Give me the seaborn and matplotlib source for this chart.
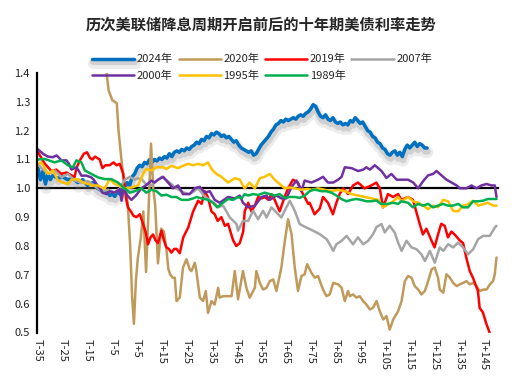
import matplotlib
matplotlib.use("Agg")
import matplotlib.pyplot as plt
import matplotlib.patheffects as pe
import pandas as pd
import seaborn as sns

sns.set_style("white")
plt.rcParams['font.family'] = ['Noto Sans CJK SC', 'DejaVu Sans']
plt.rcParams['axes.unicode_minus'] = False

title = "历次美联储降息周期开启前后的十年期美债利率走势"

series_names = ["2024年", "2020年", "2019年", "2007年", "2000年", "1995年", "1989年"]
series_colors = ["#0070C0", "#C09A5B", "#FF0000", "#A5A5A5", "#7030A0", "#FFC000", "#00B050"]

x_ticks = [-35, -25, -15, -5, 5, 15, 25, 35, 45, 55, 65, 75, 85, 95, 105, 115, 125, 135, 145]
x_tick_labels = ["T-35", "T-25", "T-15", "T-5", "T+5", "T+15", "T+25", "T+35", "T+45", "T+55",
                 "T+65", "T+75", "T+85", "T+95", "T+105", "T+115", "T+125", "T+135", "T+145"]
y_ticks = [0.5, 0.6, 0.7, 0.8, 0.9, 1.0, 1.1, 1.2, 1.3, 1.4]

t_2024 = [-35, -34, -33, -32, -31, -30, -29, -27, -25, -23, -21, -19, -17, -15, -13, -11, -9, -7, -6, -5,
          -4, -3, -2, -1, 0, 1, 2, 3, 4, 5, 6, 7, 8, 9, 10, 11, 12, 13, 14, 15, 16, 17, 18, 19, 20,
          21, 22, 23, 24, 25, 26, 27, 28, 29, 30, 31, 32, 33, 34, 35, 36, 37, 38, 39, 40, 41, 42, 43,
          44, 45, 46, 47, 48, 49, 50, 51, 52, 53, 54, 55, 56, 57, 58, 59, 60, 61, 62, 63, 64, 65, 66,
          67, 68, 69, 70, 71, 72, 73, 74, 75, 76, 77, 78, 79, 80, 81, 82, 83, 84, 85, 86, 87, 88, 89,
          90, 91, 92, 93, 94, 95, 96, 97, 98, 99, 100, 101, 102, 103, 104, 105, 106, 107, 108, 109,
          110, 111, 112, 113, 114, 115, 116, 117, 118, 119, 120, 121, 122]
v_2024 = [1.07, 1.03, 1.06, 1.015, 1.05, 1.03, 1.045, 1.035, 1.04, 1.03, 1.035, 1.02, 1.03, 1.01, 1.02,
          1.0, 0.99, 0.985, 0.975, 0.98, 0.972, 0.99, 0.98, 0.995,
          1.0, 1.02, 1.01, 1.04, 1.05, 1.07, 1.08, 1.075, 1.09, 1.085, 1.10, 1.09, 1.10, 1.095, 1.105,
          1.10, 1.11, 1.105, 1.12, 1.11, 1.125, 1.13, 1.125, 1.135, 1.13, 1.14, 1.135, 1.145, 1.15,
          1.16, 1.155, 1.17, 1.165, 1.18, 1.175, 1.19, 1.185, 1.195, 1.19, 1.18, 1.185, 1.175, 1.18,
          1.17, 1.16, 1.165, 1.15, 1.14, 1.135, 1.13, 1.125, 1.13, 1.115, 1.12, 1.135, 1.15, 1.16,
          1.17, 1.18, 1.195, 1.205, 1.22, 1.225, 1.235, 1.23, 1.24, 1.235, 1.24, 1.245, 1.24, 1.25,
          1.255, 1.25, 1.26, 1.265, 1.275, 1.29, 1.285, 1.265, 1.25, 1.245, 1.255, 1.24, 1.235, 1.245,
          1.23, 1.225, 1.23, 1.22, 1.225, 1.22, 1.235, 1.23, 1.245, 1.235, 1.225, 1.23, 1.215, 1.2,
          1.195, 1.18, 1.175, 1.16, 1.155, 1.14, 1.135, 1.12, 1.115, 1.125, 1.13, 1.115, 1.125, 1.11,
          1.135, 1.15, 1.14, 1.15, 1.16, 1.145, 1.155, 1.15, 1.14, 1.14]

t_2020 = [-12, -8, -6.5, -5, -4, -3.2, -2.5, -1.3, 0, 1.2, 2.2, 3.0, 3.7, 4.5, 5.3, 6.5, 7.5, 8.6, 9.5,
          10.6, 11.5, 12.3, 13.4, 14.7, 15.8, 16.8, 17.6, 18.4, 19.3, 20.2, 20.9, 22.2, 23.5, 24.9,
          26.2, 26.9, 28.3, 28.9, 30.3, 31.6, 32.7, 33.6, 35.0, 36.3, 37.7, 38.3, 39.7, 41.7, 43.1,
          44.4, 45.7, 47.7, 49.1, 50.4, 52.5, 53.1, 54.5, 55.8, 57.2, 58.5, 59.9, 61.2, 63.2, 64.6,
          65.9, 67.3, 68.6, 69.9, 71.3, 72.6, 73.6, 75.3, 76.7, 78.0, 80.0, 81.4, 82.7, 84.1, 86.1,
          87.5, 88.8, 90.1, 90.8, 92.1, 93.5, 94.8, 96.2, 97.5, 98.9, 100.2, 101.6, 102.9, 104.3,
          105.6, 106.9, 108.3, 110.3, 111.7, 113.0, 114.3, 115.7, 117.0, 118.4, 119.7, 121.1, 122.4,
          123.8, 125.1, 126.4, 127.1, 128.5, 129.8, 131.2, 132.5, 133.9, 135.2, 136.5, 137.9, 139.2,
          140.6, 141.9, 143.3, 144.6, 146.0, 147.3, 148.6, 149.3, 150.0]
v_2020 = [1.6, 1.45, 1.34, 1.305, 1.30, 1.295, 1.2, 1.097, 1.0, 0.95, 0.80, 0.62, 0.53, 0.68, 0.76, 0.83,
          0.92, 0.71, 0.90, 1.155, 1.0, 0.94, 0.74, 0.86, 0.85, 0.79, 0.72, 0.70, 0.69, 0.69, 0.609,
          0.621, 0.725, 0.754, 0.719, 0.713, 0.742, 0.713, 0.621, 0.609, 0.644, 0.568, 0.609, 0.597,
          0.655, 0.621, 0.626, 0.626, 0.626, 0.713, 0.615, 0.713, 0.655, 0.621, 0.655, 0.713, 0.672,
          0.649, 0.655, 0.678, 0.684, 0.644, 0.725, 0.818, 0.893, 0.841, 0.725, 0.644, 0.696, 0.702,
          0.737, 0.707, 0.69, 0.696, 0.649, 0.626, 0.632, 0.672, 0.667, 0.655, 0.609, 0.644, 0.626,
          0.632, 0.621, 0.626, 0.609, 0.597, 0.58, 0.586, 0.609, 0.574, 0.545, 0.557, 0.51, 0.545,
          0.574, 0.609, 0.678, 0.696, 0.69, 0.661, 0.649, 0.632, 0.644, 0.678, 0.719, 0.725, 0.69,
          0.649, 0.638, 0.702, 0.69, 0.672, 0.661, 0.667, 0.672, 0.678, 0.667, 0.672, 0.661, 0.644,
          0.649, 0.649, 0.667, 0.678, 0.702, 0.76]

t_2019 = [-35, -32.3, -29.6, -27.6, -25.6, -23.5, -21.5, -20.2, -19.5, -18.2, -16.5, -15.2, -14, -13,
          -12, -10.1, -9, -7.8, -6.1, -4.5, -3.3, -2, -0.6, 0.7, 1.3, 2.7, 3.5, 4.7, 6.1, 7.4, 8.4,
          9.4, 10.4, 11.4, 12.4, 13.4, 14.8, 15.8, 16.8, 17.8, 18.8, 20.0, 20.9, 22.2, 23.6, 25.6,
          27.6, 29.6, 31.0, 32.3, 33.5, 35.0, 36.3, 37.5, 39.0, 40.4, 41.7, 43.7, 45.0, 46.4, 47.1,
          47.8, 48.4, 49.8, 51.1, 52.5, 53.8, 55.2, 56.5, 58.0, 59.2, 60.5, 62.5, 64.5, 65.9, 67.9,
          69.9, 71.3, 72.6, 74.0, 74.6, 76.6, 78.7, 80.0, 82.0, 84.0, 85.4, 86.7, 88.1, 90.1, 92.1,
          94.1, 96.8, 99.5, 101.5, 102.9, 104.2, 106.2, 108.2, 110.3, 111.6, 114.3, 116.3, 117.6,
          119.0, 120.3, 121.7, 123.7, 125.0, 126.4, 127.7, 129.1, 130.4, 131.8, 133.1, 135.1, 136.5,
          137.8, 139.2, 140.5, 142.5, 143.2, 144.5, 145.9, 147.2]
v_2019 = [1.125, 1.086, 1.06, 1.065, 1.05, 1.055, 1.045, 1.04, 1.07, 1.095, 1.12, 1.125, 1.105, 1.10,
          1.11, 1.10, 1.07, 1.08, 1.08, 1.09, 1.08, 1.085, 1.05, 0.957, 0.934, 0.917, 0.905, 0.90,
          0.91, 0.876, 0.85, 0.806, 0.83, 0.84, 0.82, 0.81, 0.853, 0.82, 0.795, 0.79, 0.777, 0.79,
          0.79, 0.775, 0.83, 0.864, 0.92, 0.957, 0.946, 0.99, 0.97, 0.92, 0.91, 0.887, 0.90, 0.87,
          0.877, 0.82, 0.80, 0.81, 0.83, 0.85, 0.92, 0.95, 0.92, 0.94, 0.97, 0.965, 0.97, 0.96, 0.98,
          0.96, 0.92, 0.97, 1.0, 1.03, 1.02, 0.99, 0.97, 0.946, 0.95, 0.91, 0.93, 0.97, 0.95, 0.91,
          0.95, 0.98, 1.0, 0.98, 1.01, 1.02, 1.0, 1.01, 1.02, 1.0, 0.934, 0.98, 0.97, 0.98, 0.96,
          0.97, 0.96, 0.92, 0.877, 0.84, 0.86, 0.82, 0.795, 0.84, 0.877, 0.87, 0.83, 0.85, 0.84,
          0.82, 0.81, 0.76, 0.713, 0.69, 0.644, 0.585, 0.57, 0.53, 0.50]

t_2007 = [-35, -33.6, -30.9, -28.2, -25.5, -22.9, -20.2, -17.5, -14.8, -12.1, -9.4, -6.7, -4, -2, 0, 2,
          4, 5.4, 7, 8.5, 10.7, 12, 13.4, 15, 16.5, 18.8, 20.5, 22, 24, 26, 28, 29.5, 31, 32.5, 33.6,
          35, 36.5, 37.7, 39.7, 42.4, 45.1, 45.7, 47.7, 49.8, 51.8, 53.8, 55.8, 57.2, 59.2, 61.2,
          63.2, 65.2, 66.6, 68.6, 70.6, 73.3, 76.0, 78.7, 81.4, 82.7, 84.1, 85.4, 87.5, 89.5, 92.1,
          94.1, 96.2, 98.2, 100.2, 101.6, 103.6, 104.9, 106.9, 108.9, 110.3, 111.7, 113.7, 115.7,
          117.7, 119.7, 121.1, 123.1, 125.1, 127.1, 128.5, 130.5, 132.5, 134.5, 136.5, 138.5, 140.6,
          142.6, 144.6, 147.3, 149.3, 150]
v_2007 = [1.085, 1.07, 1.05, 1.062, 1.038, 1.05, 1.027, 1.02, 1.025, 1.008, 0.99, 0.995, 0.986, 1.0,
          1.03, 1.04, 1.03, 1.035, 1.03, 1.015, 1.01, 1.02, 1.03, 1.04, 1.03, 1.015, 1.0, 0.995,
          0.985, 0.98, 0.99, 1.0, 0.985, 0.97, 0.963, 0.955, 0.946, 0.935, 0.94, 0.899, 0.876, 0.853,
          0.887, 0.887, 0.922, 0.893, 0.922, 0.899, 0.934, 0.916, 0.899, 0.934, 0.957, 0.922, 0.876,
          0.864, 0.853, 0.841, 0.824, 0.806, 0.783, 0.806, 0.818, 0.835, 0.806, 0.83, 0.806, 0.818,
          0.841, 0.866, 0.876, 0.847, 0.870, 0.847, 0.812, 0.783, 0.818, 0.795, 0.789, 0.771, 0.748,
          0.783, 0.742, 0.795, 0.783, 0.806, 0.795, 0.812, 0.795, 0.771, 0.789, 0.824, 0.835, 0.835,
          0.864, 0.87]

t_2000 = [-35, -33, -31, -29, -27.5, -25.5, -23.5, -22.5, -21.5, -19.5, -18.5, -17.5, -15.5, -13.5,
          -12.5, -11.4, -10, -9, -7.4, -6, -4.5, -3, -2, -1.3, -0.4, 1, 2.7, 4.5, 6.7, 8.5, 10.8, 12,
          13.5, 15.5, 17.5, 19.5, 21.5, 23.5, 26.2, 28.2, 30.3, 32.3, 34.3, 36.3, 38.3, 41.7, 44.4,
          46.4, 47.7, 49.8, 52.5, 55.2, 57.2, 58.5, 61.2, 63.2, 65.2, 67.3, 69.3, 71.3, 72.6, 75.3,
          78, 80, 82, 84.1, 86.1, 87.5, 88.8, 91.5, 94.2, 96.2, 97.5, 98.9, 100.9, 103.6, 105.6,
          107.6, 109.7, 111.7, 114.3, 116.4, 118.4, 120.4, 122.4, 124.4, 125.8, 127.8, 129.8, 131.9,
          133.9, 135.2, 137.9, 139.9, 141.9, 143.9, 146, 148, 149.3, 150]
v_2000 = [1.135, 1.12, 1.11, 1.108, 1.114, 1.097, 1.097, 1.085, 1.065, 1.073, 1.06, 1.044, 1.044,
          1.038, 1.03, 1.015, 1.0, 0.985, 0.98, 0.99, 0.985, 0.99, 0.997, 0.957, 1.0, 0.975, 0.96,
          0.975, 1.0, 1.01, 1.027, 1.02, 1.03, 1.04, 1.02, 1.0, 1.01, 0.98, 0.98, 1.0, 1.005, 0.985,
          0.99, 0.96, 0.95, 0.97, 0.965, 0.975, 0.95, 0.934, 0.94, 0.97, 0.975, 0.96, 0.975, 0.965,
          0.965, 1.005, 1.027, 0.99, 1.027, 1.02, 1.03, 1.04, 1.02, 1.02, 1.03, 1.04, 1.073, 1.07,
          1.06, 1.065, 1.073, 1.065, 1.08, 1.06, 1.036, 1.05, 1.03, 1.03, 1.03, 1.02, 1.0, 1.025,
          1.045, 1.05, 1.06, 1.045, 1.03, 1.02, 1.01, 1.0, 1.0, 1.01, 1.0, 1.01, 1.015, 1.01, 1.01,
          0.97]

t_1995 = [-35, -33.6, -31, -29, -26.9, -24.9, -22.9, -21.5, -18.8, -16.8, -14.8, -12.8, -10.8, -8.1,
          -6.1, -4, -2, 0, 2.7, 5.4, 7.4, 8.7, 10.8, 12.8, 15.5, 16.8, 18.8, 21.5, 23.5, 25.6, 27.6,
          29.6, 31.6, 33.6, 35, 37, 39, 41.7, 44.4, 46.4, 48.4, 50.4, 52.5, 54.5, 56.5, 58.5, 60.5,
          62.5, 64.6, 66.6, 68.6, 71.3, 73.9, 75.3, 78, 80.7, 83.4, 86.1, 88.8, 91.5, 94.2, 96.9,
          99.6, 102.3, 104.3, 106.3, 108.3, 110.3, 111.7, 114.3, 116.4, 118.4, 120.4, 122.4, 124.4,
          126.4, 128.5, 130.5, 132.5, 134.5, 136.5, 138.5, 140.6, 142.6, 144.6, 146.6, 148.6, 150]
v_1995 = [1.085, 1.09, 1.05, 1.062, 1.027, 1.02, 1.015, 1.03, 1.032, 1.02, 1.015, 1.01, 1.01, 0.998,
          1.032, 1.015, 1.01, 1.0, 1.003, 1.01, 1.05, 1.067, 1.062, 1.073, 1.073, 1.067, 1.078, 1.07,
          1.078, 1.085, 1.08, 1.085, 1.08, 1.09, 1.067, 1.05, 1.04, 1.02, 1.035, 1.03, 1.0, 1.02, 1.0,
          1.035, 1.04, 1.05, 1.03, 1.015, 1.0, 1.003, 1.0, 0.995, 0.998, 0.995, 1.0, 0.995, 0.99,
          0.995, 0.99, 0.98, 0.975, 0.97, 0.965, 0.96, 0.934, 0.945, 0.955, 0.97, 0.955, 0.97, 0.955,
          0.95, 0.94, 0.928, 0.94, 0.935, 0.96, 0.955, 0.922, 0.92, 0.94, 0.945, 0.957, 0.94, 0.945,
          0.95, 0.94, 0.94]

t_1989 = [-35, -32.3, -28.3, -25.6, -22.9, -20.9, -19.5, -17.5, -16.1, -13.5, -10.8, -8.1, -5.4, -2.7,
          0, 2, 4, 6.7, 8.7, 10.8, 12.8, 14.8, 16.8, 18.8, 20.8, 22.9, 25.6, 27.6, 28.9, 31, 33.6,
          35.6, 37.3, 39, 41.7, 43.7, 45.7, 47.1, 48.4, 49.8, 51.8, 53.8, 56.5, 58.5, 60.5, 62.5,
          64.5, 66.6, 68.6, 70.6, 72.6, 74.6, 76.6, 79.3, 81.3, 83.4, 85.4, 87.4, 89.4, 91.4, 93.4,
          95.5, 97.5, 99.5, 101.5, 103.5, 106.2, 108.2, 110.3, 111.6, 114.3, 116.3, 118.3, 120.3,
          122.4, 124.4, 126.4, 128.4, 130.4, 132.4, 134.5, 136.5, 138.5, 140.5, 142.5, 144.5, 146.6,
          148.6, 150]
v_1989 = [1.10, 1.102, 1.09, 1.097, 1.08, 1.073, 1.097, 1.09, 1.062, 1.05, 1.038, 1.032, 1.032, 1.02,
          1.0, 0.985, 0.99, 1.0, 0.985, 0.995, 0.99, 0.975, 0.978, 0.97, 0.97, 0.96, 0.96, 0.965,
          0.97, 0.965, 0.96, 0.95, 0.934, 0.946, 0.963, 0.96, 0.97, 0.965, 0.98, 0.975, 0.98, 0.977,
          0.985, 0.98, 0.975, 0.98, 0.967, 0.97, 0.97, 0.967, 0.975, 0.99, 0.996, 0.99, 0.99, 0.985,
          0.975, 0.963, 0.955, 0.96, 0.963, 0.96, 0.955, 0.955, 0.958, 0.946, 0.946, 0.95, 0.946,
          0.955, 0.95, 0.934, 0.946, 0.94, 0.946, 0.934, 0.94, 0.946, 0.94, 0.94, 0.946, 0.934,
          0.934, 0.955, 0.955, 0.957, 0.963, 0.963, 0.963]

series_t = [t_2024, t_2020, t_2019, t_2007, t_2000, t_1995, t_1989]
series_v = [v_2024, v_2020, v_2019, v_2007, v_2000, v_1995, v_1989]

frames = []
for name, tt, vv in zip(series_names, series_t, series_v):
    assert len(tt) == len(vv), (name, len(tt), len(vv))
    frames.append(pd.DataFrame({"t": tt, "v": vv, "series": name}))
df = pd.concat(frames, ignore_index=True)

fig = plt.figure(figsize=(5.22, 3.92), dpi=100)
ax = fig.add_axes([37 / 522, 1 - 332.5 / 392, 461 / 522, 259.5 / 392])

y_lo, y_hi = 0.5, 1.4
handles = {}
for name, color in zip(series_names, series_colors):
    sub = df[df["series"] == name]
    lw = 2.5 if name == "2024年" else 1.8
    sns.lineplot(data=sub, x="t", y="v", color=color, linewidth=lw, estimator=None,
                 sort=False, ax=ax, legend=False)
    line = ax.lines[-1]
    line.set_label(name)
    line.set_solid_joinstyle("round")
    if name == "2024年":
        line.set_path_effects([
            pe.SimpleLineShadow(offset=(0.5, -3.2), shadow_color="#808080", alpha=0.15, linewidth=8),
            pe.SimpleLineShadow(offset=(0.5, -2.6), shadow_color="#808080", alpha=0.25, linewidth=4.5),
            pe.Normal()])
    handles[name] = line

ax.set_xlim(-35.4, 150.6)
ax.set_ylim(y_lo, y_hi)
ax.set_xlabel("")
ax.set_ylabel("")

# y axis
ax.set_yticks(y_ticks)
ax.set_yticklabels([f"{v:.1f}" for v in y_ticks])
ax.tick_params(axis="y", direction="in", length=3.5, width=1.2, color="black",
               labelsize=8, labelcolor="#222222", pad=5)

# horizontal axis line at 1.0 with upward ticks
for s in ["top", "right"]:
    ax.spines[s].set_visible(False)
ax.spines["left"].set_color("black")
ax.spines["left"].set_linewidth(1.6)
ax.spines["bottom"].set_position(("data", 1.0))
ax.spines["bottom"].set_color("black")
ax.spines["bottom"].set_linewidth(1.6)
ax.spines["bottom"].set_zorder(1.5)
ax.set_xticks(x_ticks)
ax.tick_params(axis="x", direction="in", length=3, width=1.2, color="black", labelbottom=False)

# category labels along the bottom of the plot
sec = ax.secondary_xaxis("bottom")
sec.set_xticks(x_ticks)
sec.set_xticklabels(x_tick_labels)
sec.tick_params(axis="x", length=0, pad=5, labelsize=8, labelcolor="#222222", labelrotation=-90)
sec.spines["bottom"].set_visible(False)

fig.text(0.5, 1 - 25 / 392, title, ha="center", va="center", fontsize=11, fontweight="bold")

order = ["2024年", "2000年", "2020年", "1995年", "2019年", "1989年", "2007年"]
fig.legend([handles[n] for n in order], order, ncol=4, loc="center",
           bbox_to_anchor=(0.502, 1 - 67.5 / 392), frameon=False, fontsize=8,
           handlelength=3.8, handletextpad=0.25, columnspacing=0.5, labelspacing=0.55,
           borderpad=0, borderaxespad=0)

fig.savefig("out.png", dpi=100)
